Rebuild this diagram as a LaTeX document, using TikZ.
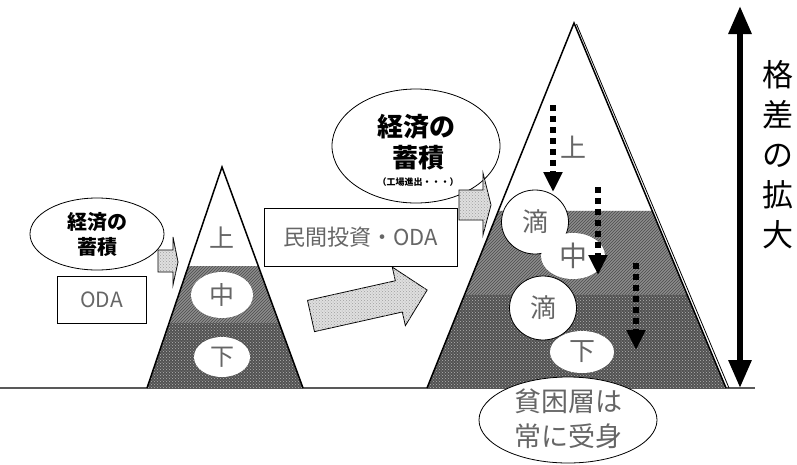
\documentclass[tikz,border=0pt]{standalone}
\usepackage{fontspec}
\setmainfont{Noto Sans CJK JP}
\usetikzlibrary{patterns,shapes.geometric,arrows.meta,calc}
\definecolor{txtgray}{HTML}{666666}
\tikzset{
  midlayer/.style={fill=black!45, postaction={pattern=north east lines, pattern color=black!70}},
  lowlayer/.style={fill=black!68, postaction={pattern=crosshatch dots, pattern color=black!30}},
  blockarrow/.style={draw=black, line width=0.8pt, fill=gray!25, postaction={pattern=crosshatch dots, pattern color=gray!75}},
  wellipse/.style={ellipse, draw=black, line width=0.8pt, fill=white, inner sep=0pt},
  plainbox/.style={draw=black, line width=0.9pt, fill=white, inner sep=0pt},
  graytxt/.style={text=txtgray, inner sep=0pt},
  dotarrow/.style={line width=6pt, dash pattern=on 6pt off 5pt, -{Triangle[width=18pt,length=20pt]}},
}
\begin{document}
\begin{tikzpicture}[x=1pt,y=-1pt]
\useasboundingbox (0,0) rectangle (797,464);
% ground
\draw[gray!70!black, line width=1.6pt] (0,388) -- (755,388);

% ---------- small pyramid ----------
\coordinate (sa) at (222,167);
\coordinate (sl) at (147,388);
\coordinate (sr) at (303,388);
\coordinate (s1l) at ($(sa)!0.448!(sl)$);
\coordinate (s1r) at ($(sa)!0.448!(sr)$);
\coordinate (s2l) at ($(sa)!0.706!(sl)$);
\coordinate (s2r) at ($(sa)!0.706!(sr)$);
\fill[white] (sa) -- (s1l) -- (s1r) -- cycle;
\path[midlayer] (s1l) -- (s2l) -- (s2r) -- (s1r) -- cycle;
\path[lowlayer] (s2l) -- (sl) -- (sr) -- (s2r) -- cycle;
\draw[line width=1.5pt, line join=miter] (sl) -- (sa) -- (sr);

\node[graytxt, font=\fontsize{25}{25}\selectfont] (sup) at (222,238) {上};
\node[ellipse, fill=white, inner sep=0pt, minimum width=62pt, minimum height=46pt] (smid) at (222,295) {};
\node[graytxt, font=\fontsize{25}{25}\selectfont] at (smid) {中};
\node[ellipse, fill=white, inner sep=0pt, minimum width=56pt, minimum height=40pt] (slow) at (222,357) {};
\node[graytxt, font=\fontsize{24}{24}\selectfont] at (slow) {下};

% left ellipse + ODA box + small arrow
\node[wellipse, minimum width=134pt, minimum height=72pt, align=center,
      font=\bfseries\fontsize{20}{25}\selectfont] (econ1) at (97,234) {経済の\\蓄積};
\node[plainbox, minimum width=89pt, minimum height=47pt] (oda1) at (101.5,299.5) {};
\node[graytxt, font=\fontsize{21}{21}\selectfont] at (oda1) {ODA};
\path[blockarrow] (158,250) -- (173,250) -- (173,237) -- (178,262) -- (173,285) -- (173,272) -- (158,272) -- cycle;

% middle box and big arrow
\node[plainbox, minimum width=193pt, minimum height=58pt] (invest) at (360.5,237) {};
\node[graytxt, font=\fontsize{22}{22}\selectfont] at (invest) {民間投資・ODA};
\begin{scope}[shift={(311,316)}, rotate=12.6]
  \path[blockarrow] (0,-16) -- (90,-16) -- (90,-30) -- (119,0) -- (90,30) -- (90,16) -- (0,16) -- cycle;
\end{scope}

% ---------- big pyramid ----------
\coordinate (ba) at (574,23);
\coordinate (bl) at (427,388);
\coordinate (br) at (726,388);
\coordinate (b1l) at ($(ba)!0.515!(bl)$);
\coordinate (b1r) at ($(ba)!0.515!(br)$);
\coordinate (b2l) at ($(ba)!0.745!(bl)$);
\coordinate (b2r) at ($(ba)!0.745!(br)$);
\fill[white] (ba) -- (b1l) -- (b1r) -- cycle;
\path[midlayer] (b1l) -- (b2l) -- (b2r) -- (b1r) -- cycle;
\path[lowlayer] (b2l) -- (bl) -- (br) -- (b2r) -- cycle;
\draw[line width=1.5pt, line join=miter] (bl) -- (ba) -- (br);
\draw[line width=0.8pt] ($(ba)+(2.5,1)$) -- ($(br)+(3,0)$);

% big ellipse + small arrow
\node[wellipse, minimum width=168pt, minimum height=114pt] (econ2) at (416,146) {};
\node[inner sep=0pt, font=\bfseries\fontsize{26}{26}\selectfont] at (416,127) {経済の};
\node[inner sep=0pt, font=\bfseries\fontsize{26}{26}\selectfont] at (418,158) {蓄積};
\node[inner sep=0pt, font=\bfseries\fontsize{9}{9}\selectfont] at (418,182) {（工場進出・・・）};
\path[blockarrow] (459,190) -- (483,190) -- (483,173) -- (491,205) -- (483,235) -- (483,220) -- (459,220) -- cycle;

% labels in big pyramid
\node[graytxt, font=\fontsize{26}{26}\selectfont] (bup) at (573,147) {上};
\node[wellipse, minimum width=67pt, minimum height=64pt] (drop1) at (535,222) {};
\node[graytxt, font=\fontsize{26}{26}\selectfont] at (drop1) {滴};
\node[ellipse, fill=white, inner sep=0pt, minimum width=64pt, minimum height=46pt] (bmid) at (573,256) {};
\node[graytxt, font=\fontsize{28}{28}\selectfont] at (bmid) {中};
\node[wellipse, minimum width=67pt, minimum height=64pt] (drop2) at (543,308) {};
\node[graytxt, font=\fontsize{26}{26}\selectfont] at (drop2) {滴};
\node[ellipse, fill=white, inner sep=0pt, minimum width=64pt, minimum height=42pt] (blow) at (582,352) {};
\node[graytxt, font=\fontsize{26}{26}\selectfont] at (blow) {下};

% poor ellipse
\node[wellipse, minimum width=178pt, minimum height=86pt] (poor) at (568,420) {};
\node[graytxt, font=\fontsize{27}{27}\selectfont] at (568,401) {貧困層は};
\node[graytxt, font=\fontsize{27}{27}\selectfont] at (568,436) {常に受身};

% dotted arrows
\coordinate (d1s) at (553,105); \coordinate (d1e) at (553,192);
\coordinate (d2s) at (598,187); \coordinate (d2e) at (598,275);
\coordinate (d3s) at (636,263); \coordinate (d3e) at (636,350);
\draw[dotarrow] (d1s) -- (d1e);
\draw[dotarrow] (d2s) -- (d2e);
\draw[dotarrow] (d3s) -- (d3e);

% gap arrow
\coordinate (gtop) at (740,6);
\coordinate (gbot) at (740,388);
\draw[line width=6pt, {Triangle[width=22pt,length=28pt]}-{Triangle[width=22pt,length=28pt]}] (gtop) -- (gbot);
\node[inner sep=0pt, align=center, font=\fontsize{31}{40}\selectfont] (gaptxt) at (778,155) {格\\差\\の\\拡\\大};
\end{tikzpicture}
\end{document}
